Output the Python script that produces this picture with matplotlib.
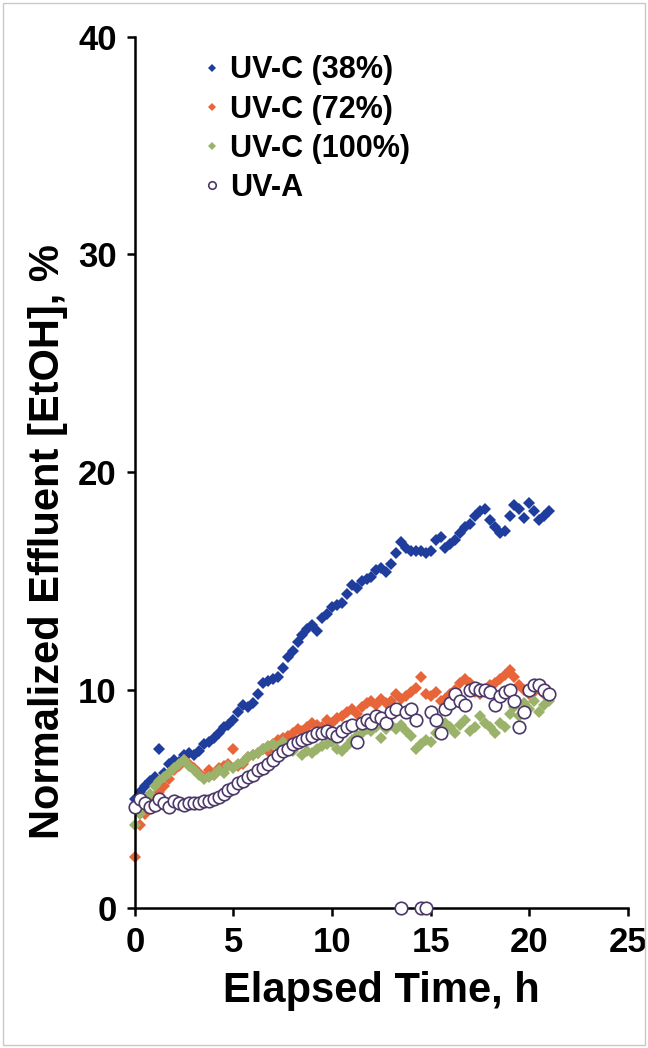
import numpy as np
import matplotlib
matplotlib.use("Agg")
import matplotlib.pyplot as plt
from matplotlib.patches import Rectangle

# sampled every 0.25 h from 0 to 21 h
step_h = 0.25

uvc38 = [5.0, 5.3, 5.6, 5.8, 6.0, 7.3, 6.2, 6.6, 6.8, 6.7, 7.0, 7.1, 7.0, 7.2, 7.5, 7.6,
         7.8, 8.0, 8.3, 8.4, 8.6, 9.0, 9.3, 9.2, 9.4, 9.8, 10.3, 10.4, 10.5, 10.6, 11.0,
         11.5, 11.8, 12.2, 12.5, 12.8, 13.0, 12.7, 13.3, 13.5, 13.8, 13.9, 14.0, 14.4,
         14.8, 14.7, 15.0, 15.1, 15.2, 15.5, 15.6, 15.4, 15.8, 16.3, 16.8, 16.5, 16.4,
         16.4, 16.4, 16.3, 16.4, 16.9, 17.0, 16.5, 16.7, 16.9, 17.2, 17.5, 17.6, 18.0,
         18.2, 18.3, 17.8, 17.5, 17.2, 17.3, 18.0, 18.5, 18.3, 17.9, 18.6, 18.2, 17.8,
         18.0, 18.2]

uvc72 = [2.3, 3.8, 4.3, 4.6, 5.0, 5.3, 5.6, 5.9, 6.3, 6.5, 6.8, 6.6, 6.4, 6.2, 6.0, 6.3,
         6.1, 6.4, 6.5, 6.6, 7.3, 6.5, 6.6, 6.9, 7.0, 7.1, 7.3, 7.2, 7.5, 7.7, 7.8, 7.9,
         8.0, 8.2, 8.1, 8.3, 8.5, 8.4, 8.3, 8.6, 8.5, 8.7, 8.8, 9.0, 9.1, 8.9, 9.2, 9.4,
         9.5, 9.3, 9.6, 9.4, 9.5, 9.8, 9.6, 9.7, 9.9, 10.1, 10.6, 9.8, 9.7, 9.9, 9.5, 9.6,
         9.8, 10.0, 10.3, 10.5, 10.3, 9.9, 9.8, 10.0, 10.2, 10.3, 10.5, 10.7, 10.9, 10.6,
         10.2, 10.0, 9.8, 9.9, 10.1, 9.8, 9.9]

uvc100 = [3.8, 4.3, 4.9, 5.2, 5.6, 5.8, 6.0, 6.2, 6.4, 6.6, 6.8, 6.5, 6.3, 6.1, 5.9, 6.0,
          6.1, 6.3, 6.2, 6.5, 6.4, 6.6, 6.7, 6.9, 7.0, 7.1, 7.3, 7.4, 7.5, 7.4, 7.6, 7.3,
          7.2, 7.5, 7.0, 7.2, 7.1, 7.3, 7.4, 7.5, 7.6, 7.3, 7.2, 7.4, 7.7, 7.9, 8.0, 8.2,
          8.1, 8.3, 7.8, 8.2, 8.4, 8.2, 8.4, 8.1, 7.9, 7.3, 7.5, 7.7, 7.6, 8.0, 8.2, 8.5,
          8.3, 8.0, 8.4, 8.6, 8.1, 8.3, 8.8, 8.5, 8.3, 8.0, 8.5, 8.3, 8.9, 9.2, 8.8, 9.4,
          9.1, 9.5, 9.0, 9.3, 9.5]

uva = [4.6, 5.0, 4.8, 4.6, 4.7, 5.0, 4.8, 4.6, 4.9, 4.8, 4.7, 4.8, 4.8, 4.8, 4.9, 4.9,
       5.0, 5.1, 5.2, 5.4, 5.5, 5.7, 5.8, 6.0, 6.1, 6.3, 6.4, 6.6, 6.8, 7.0, 7.2, 7.3,
       7.5, 7.6, 7.7, 7.8, 7.9, 8.0, 8.0, 8.1, 8.0, 7.9, 8.1, 8.3, 8.4, 7.6, 8.5, 8.6,
       8.5, 8.8, 8.7, 8.5, 9.0, 9.1, 0.0, 9.0, 9.1, 8.6, 0.0, 0.0, 9.0, 8.6, 8.0, 9.1,
       9.4, 9.8, 9.5, 9.3, 10.0, 10.1, 10.0, 10.0, 9.9, 9.3, 9.7, 9.9, 10.0, 9.5, 8.3,
       9.0, 10.0, 10.2, 10.2, 10.0, 9.8]

labels = ["UV-C (38%)", "UV-C (72%)", "UV-C (100%)", "UV-A"]

plt.rcParams['font.family'] = ['Liberation Sans', 'DejaVu Sans']
plt.rcParams['font.weight'] = 'bold'

fig = plt.figure(figsize=(6.48, 10.48), dpi=100)
fig.patches.append(Rectangle((0.004, 0.003), 0.992, 0.994, transform=fig.transFigure,
                             fill=False, edgecolor='#c8c8c8', linewidth=1))
ax = fig.add_axes([0.208, 0.134, 0.761, 0.831])

def times(vals):
    return np.arange(len(vals)) * step_h

ax.plot(times(uvc38), uvc38, 'D', color='#1f3d9c', markersize=6.5, markeredgewidth=0,
        label=labels[0], clip_on=False)
ax.plot(times(uvc72), uvc72, 'D', color='#e8653a', markersize=6.5, markeredgewidth=0,
        label=labels[1], clip_on=False)
ax.plot(times(uvc100), uvc100, 'D', color='#9bb26a', markersize=6.5, markeredgewidth=0,
        label=labels[2], clip_on=False)
ax.plot(times(uva), uva, 'o', markerfacecolor='white', markeredgecolor='#4b3868',
        markeredgewidth=1.2, markersize=9, label=labels[3], clip_on=False, zorder=3)

ax.set_xlim(0, 25)
ax.set_ylim(0, 40)
ax.set_xticks([0, 5, 10, 15, 20, 25])
ax.set_yticks([0, 10, 20, 30, 40])
ax.spines['top'].set_visible(False)
ax.spines['right'].set_visible(False)
for s in ['left', 'bottom']:
    ax.spines[s].set_linewidth(1.8)
ax.tick_params(direction='out', length=6, width=1.8, labelsize=25, pad=7)

ax.set_xlabel("Elapsed Time, h", fontsize=30, fontweight='bold')
ax.xaxis.set_label_coords(0.5, -0.073)
ax.set_ylabel("Normalized Effluent [EtOH], %", fontsize=30, fontweight='bold')
ax.yaxis.set_label_coords(-0.135, 0.42)

leg = ax.legend(loc='upper left', bbox_to_anchor=(0.085, 1.01), frameon=False,
                fontsize=22, handlelength=0.5, handletextpad=0.35, labelspacing=0.3,
                markerscale=0.6)

fig.savefig("out.png", dpi=100)
